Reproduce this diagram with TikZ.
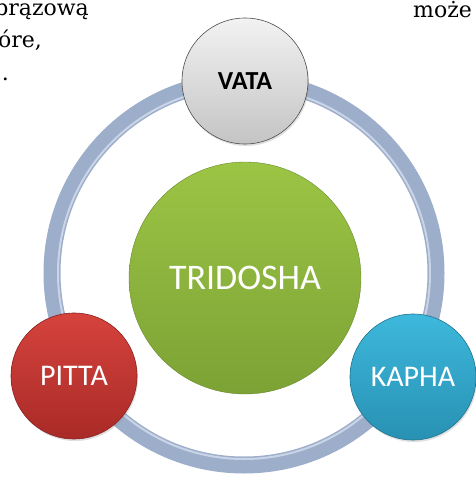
\documentclass[tikz,border=0pt]{standalone}
\usepackage{fontspec}
\setmainfont{DejaVu Serif}
\newfontfamily\dosha{Carlito}
\usetikzlibrary{positioning,shadows}
\definecolor{ringblue}{HTML}{9DAECB}
\definecolor{ringlight}{HTML}{C9D4E6}
\definecolor{vatatop}{HTML}{F2F2F2}
\definecolor{vatabot}{HTML}{C4C4C4}
\definecolor{greentop}{HTML}{9CC545}
\definecolor{greenbot}{HTML}{7CA235}
\definecolor{redtop}{HTML}{D6433D}
\definecolor{redbot}{HTML}{A92A27}
\definecolor{bluetop}{HTML}{3DB8DC}
\definecolor{bluebot}{HTML}{2891B3}

\begin{document}
\begin{tikzpicture}[x=1pt,y=-1pt,
  page/.style={font=\fontsize{22}{28}\selectfont,inner sep=0pt},
  dot/.style={circle,inner sep=0pt,minimum size=126pt,line width=0.6pt,
    drop shadow={shadow xshift=1pt,shadow yshift=-2pt,opacity=0.25}},
  lbl/.style={font=\dosha\fontsize{30}{30}\selectfont}]
\useasboundingbox (0,0) rectangle (476,479);
% text of the page round the figure
\node (txta) [page,anchor=base east] at (89,15) {brązową};
\node (txtb) [page,anchor=base east] at (42,47) {które,};
\node (txtc) [page,anchor=base east] at (9,80) {.};
\node (txtd) [page,anchor=base west] at (413,17) {może};
% ring
\node (ring) [circle,inner sep=0pt,minimum size=384pt,draw=ringblue,line width=17pt] at (244,273) {};
\draw[ringlight,line width=2pt] (ring.center) circle (186pt);
% centre
\node (tri) [circle,inner sep=0pt,minimum size=232pt,top color=greentop,bottom color=greenbot,
  draw=greenbot!85!black,line width=0.4pt,text=white,font=\dosha\fontsize{36}{36}\selectfont] at (245,278) {TRIDOSHA};
% doshas
\node (vata) [dot,top color=vatatop,bottom color=vatabot,draw=black!70,
  font=\dosha\bfseries\fontsize{26}{26}\selectfont] at (245,81) {VATA};
\node (pitta) [dot,top color=redtop,bottom color=redbot,draw=redbot!80!black,lbl,text=white] at (74,376) {PITTA};
\node (kapha) [dot,top color=bluetop,bottom color=bluebot,draw=bluebot!80!black,lbl,text=white] at (413,377) {KAPHA};
\end{tikzpicture}
\end{document}
